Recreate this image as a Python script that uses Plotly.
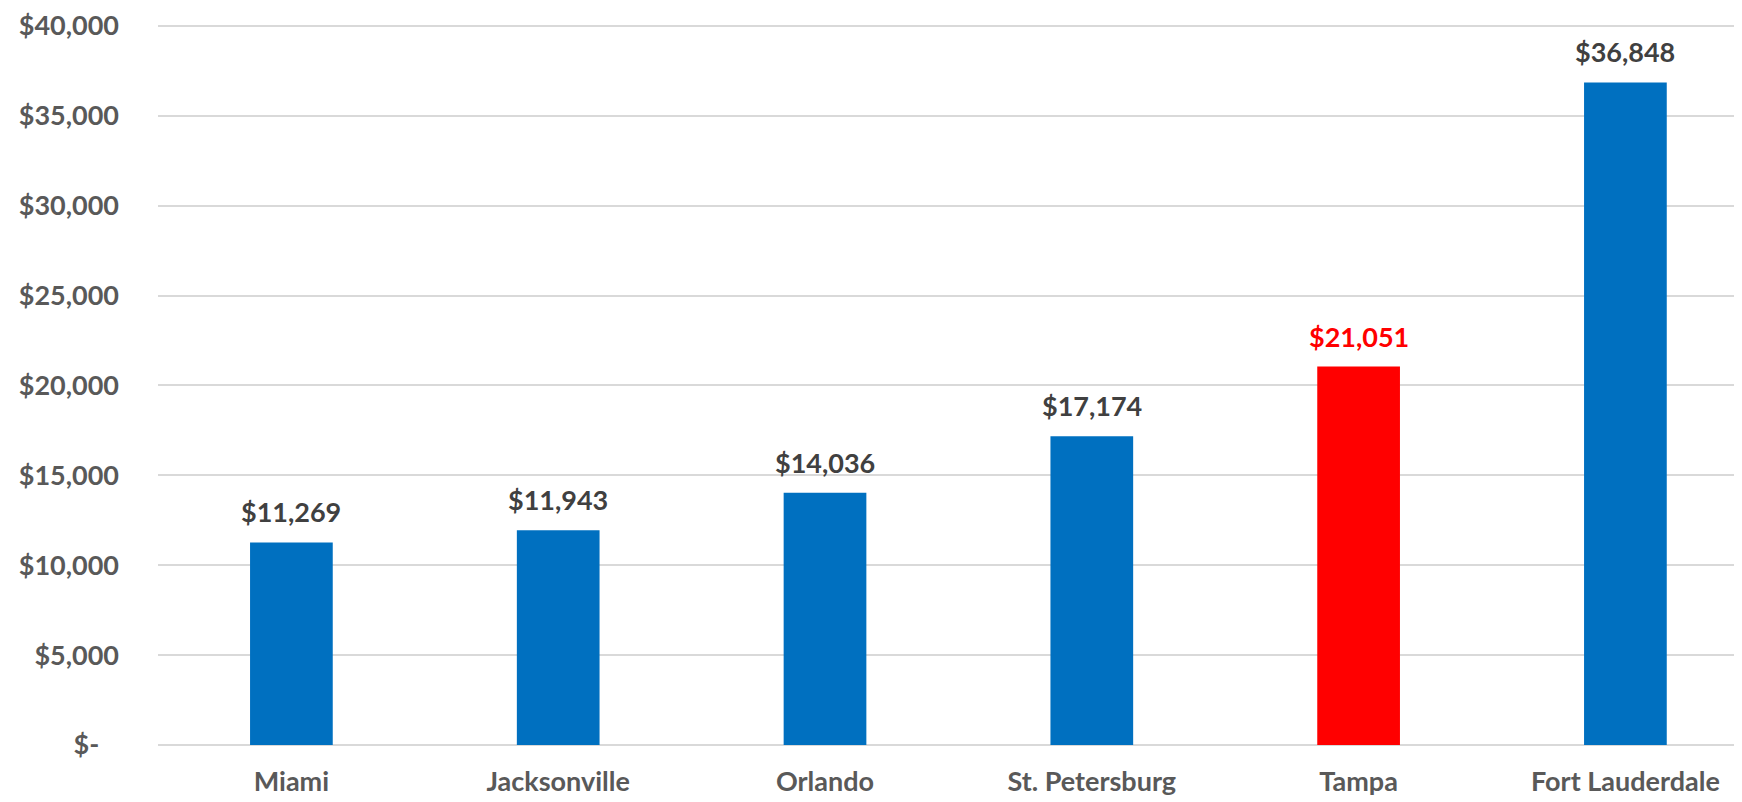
import plotly.graph_objects as go

cities = ["Miami", "Jacksonville", "Orlando", "St. Petersburg", "Tampa", "Fort Lauderdale"]
values = [11269, 11943, 14036, 17174, 21051, 36848]
highlight = "Tampa"
tick_vals = [0, 5000, 10000, 15000, 20000, 25000, 30000, 35000, 40000]
tick_text = ["$-\u00a0\u00a0\u00a0", "$5,000", "$10,000", "$15,000", "$20,000",
             "$25,000", "$30,000", "$35,000", "$40,000"]

BLUE = "#0070C0"
RED = "#FF0000"
FONT = "Lato"

colors = [RED if c == highlight else BLUE for c in cities]

fig = go.Figure()
fig.add_trace(go.Bar(x=cities, y=values, marker=dict(color=colors, line=dict(width=0)),
                     width=0.31, hoverinfo="skip"))

for c, v in zip(cities, values):
    fig.add_annotation(x=c, y=v, text=f"<b>${v:,}</b>", showarrow=False,
                       yanchor="bottom", yshift=12,
                       font=dict(family=FONT, size=27,
                                 color=RED if c == highlight else "#404040"))

fig.update_layout(
    width=1734, height=794,
    margin=dict(l=150, r=0, t=14, b=57),
    paper_bgcolor="white", plot_bgcolor="white",
    showlegend=False,
    font=dict(family=FONT, size=27, color="#595959"),
)
fig.update_xaxes(
    range=[-0.5, 5.437],
    tickvals=cities,
    ticktext=[f"<b>{c}</b>" for c in cities],
    tickfont=dict(family=FONT, size=27, color="#595959"),
    showgrid=False, showline=False, zeroline=False,
    ticks="", ticklabelstandoff=18, ticklabeloverflow="allow",
)
fig.update_yaxes(
    range=[0, 40100],
    tickvals=tick_vals,
    ticktext=[f"<b>{t}</b>" for t in tick_text],
    tickfont=dict(family=FONT, size=27, color="#595959"),
    showgrid=True, gridcolor="#D9D9D9", gridwidth=1.5,
    zeroline=True, zerolinecolor="#D9D9D9", zerolinewidth=1.5,
    showline=False, ticks="", ticklabelstandoff=38, ticklabeloverflow="allow",
)

fig.write_html("out.html")
